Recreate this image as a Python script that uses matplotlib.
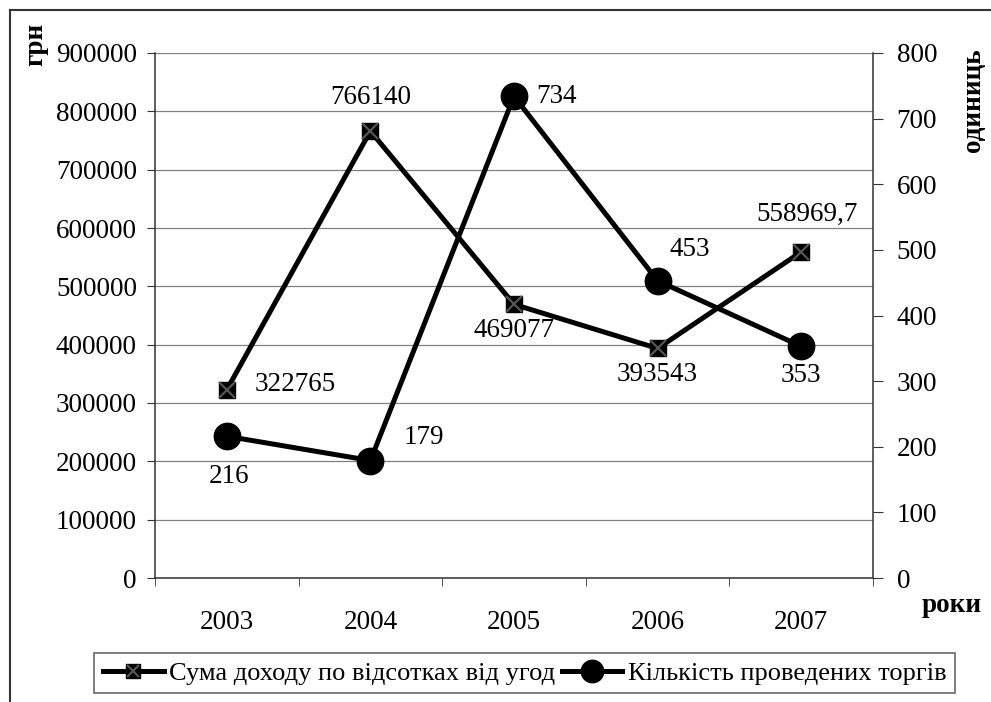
import matplotlib
matplotlib.use('Agg')
import matplotlib.pyplot as plt
from matplotlib.lines import Line2D
from matplotlib.legend_handler import HandlerTuple

plt.rcParams['font.family'] = 'serif'
plt.rcParams['font.serif'] = ['Liberation Serif', 'Times New Roman', 'DejaVu Serif']

years = ['2003', '2004', '2005', '2006', '2007']
income = [322765, 766140, 469077, 393543, 558969.7]
income_labels = ['322765', '766140', '469077', '393543', '558969,7']
trades = [216, 179, 734, 453, 353]
trade_labels = ['216', '179', '734', '453', '353']

# label offsets in pixels (dx, dy, ha)
income_off = [(28, 5, 'left'), (0, 34, 'center'), (0, -26, 'center'),
              (0, -26, 'center'), (6, 38, 'center')]
trade_off = [(2, -40, 'center'), (33, 23, 'left'), (22, 0, 'left'),
             (12, 31, 'left'), (0, -29, 'center')]

W, H = 991, 702
fs = 19.5
fig = plt.figure(figsize=(W / 100, H / 100), dpi=100)
ax = fig.add_axes([155 / W, (H - 578) / H, (873 - 155) / W, (578 - 53) / H])
ax2 = ax.twinx()

x = list(range(len(years)))

ax.set_xlim(-0.5, 4.5)
ax.set_ylim(0, 900000)
ax.set_yticks(range(0, 900001, 100000))
ax.set_yticklabels([str(v) for v in range(0, 900001, 100000)])
ax.grid(axis='y', color='#808080', linewidth=0.9)
ax.set_axisbelow(True)

ax.set_xticks(x)
ax.set_xticklabels(years)
ax.set_xticks([i - 0.5 for i in range(len(years) + 1)], minor=True)
ax.tick_params(axis='x', which='major', length=0, pad=23, labelsize=fs)
ax.tick_params(axis='x', which='minor', length=6, direction='out', color='#333333')
ax.tick_params(axis='y', length=6, direction='out', pad=7, labelsize=fs, color='#333333')

ax2.set_ylim(0, 800)
ax2.set_yticks(range(0, 801, 100))
ax2.tick_params(axis='y', length=7, direction='out', pad=10, labelsize=fs, color='#333333')

for a in (ax, ax2):
    a.spines['top'].set_visible(False)
    for s in ('left', 'right', 'bottom'):
        a.spines[s].set_color('#333333')
        a.spines[s].set_linewidth(1.1)
ax.spines['right'].set_visible(False)
ax2.spines['left'].set_visible(False)
ax2.spines['bottom'].set_visible(False)

l1, = ax.plot(x, income, color='black', linewidth=3.6, marker='s',
              markersize=12, markerfacecolor='black', markeredgecolor='black',
              solid_joinstyle='miter', zorder=3)
l1x, = ax.plot(x, income, linestyle='none', marker='x', markersize=11,
               markeredgecolor='#555555', markeredgewidth=1.6, zorder=4)
l2, = ax2.plot(x, trades, color='black', linewidth=3.6, marker='o',
               markersize=19, markerfacecolor='black', markeredgecolor='black',
               zorder=3)

for i, v in enumerate(income):
    dx, dy, ha = income_off[i]
    ax.annotate(income_labels[i], (x[i], v), xytext=(dx, dy),
                textcoords='offset pixels', ha=ha, va='center', fontsize=fs)
for i, v in enumerate(trades):
    dx, dy, ha = trade_off[i]
    ax2.annotate(trade_labels[i], (x[i], v), xytext=(dx, dy),
                 textcoords='offset pixels', ha=ha, va='center', fontsize=fs)

fig.text(36 / W, 1 - 44 / H, 'грн', rotation=90, ha='center', va='center',
         fontsize=fs, fontweight='bold')
fig.text(973 / W, 1 - 100 / H, 'одиниць', rotation=90, ha='center', va='center',
         fontsize=fs, fontweight='bold')
fig.text(952 / W, 1 - 606 / H, 'роки', ha='center', va='center',
         fontsize=fs, fontweight='bold')

leg = fig.legend([(l1, l1x), l2],
                 ['Сума доходу по відсотках від угод', 'Кількість проведених торгів'],
                 handler_map={tuple: HandlerTuple(ndivide=1)},
                 loc='center', bbox_to_anchor=(524.5 / W, 1 - 673 / H),
                 ncol=2, fontsize=19, frameon=True, fancybox=False,
                 handlelength=2.3, handletextpad=0.2, columnspacing=0.25,
                 borderpad=0.32, borderaxespad=0, numpoints=1, markerscale=0.85)
leg.get_frame().set_edgecolor('#333333')
leg.get_frame().set_linewidth(1.1)

# outer chart border (top and left edges visible)
fig.add_artist(Line2D([10 / W, 10 / W], [0, 1 - 10 / H], transform=fig.transFigure,
                      color='#333333', linewidth=1.5))
fig.add_artist(Line2D([10 / W, 1], [1 - 10 / H, 1 - 10 / H], transform=fig.transFigure,
                      color='#333333', linewidth=1.5))

fig.savefig('out.png', dpi=100)
